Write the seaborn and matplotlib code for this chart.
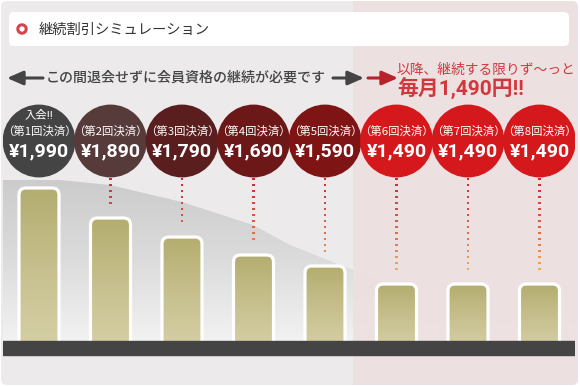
import numpy as np
import pandas as pd
import matplotlib
matplotlib.use("Agg")
import matplotlib.pyplot as plt
import matplotlib.colors as mcolors
from matplotlib.patches import FancyBboxPatch, Rectangle, Circle, Polygon
import seaborn as sns

# ---------------- data ----------------
payment_no = [1, 2, 3, 4, 5, 6, 7, 8]
circle_titles = ["入会!!\n（第1回決済）", "（第2回決済）", "（第3回決済）", "（第4回決済）",
                 "（第5回決済）", "（第6回決済）", "（第7回決済）", "（第8回決済）"]
prices = [1990, 1890, 1790, 1690, 1590, 1490, 1490, 1490]
bar_heights = [153, 123, 104, 86, 75, 57, 57, 57]   # illustrated bar heights
circle_colors = ["#444444", "#573A3A", "#5A1E1F", "#6C1819", "#7E1414",
                 "#D5181B", "#D5181B", "#D5181B"]
title_text = "継続割引シミュレーション"
arrow_text = "この間退会せずに会員資格の継続が必要です"
red_text_1 = "以降、継続する限りず～っと"
red_text_2 = "毎月1,490円!!"

sns.set_theme(style="white")
plt.rcParams['font.family'] = ['Noto Sans CJK JP', 'DejaVu Sans']
MIX_FONT = ['Roboto', 'Noto Sans CJK JP', 'DejaVu Sans']

W, H = 580, 386
fig = plt.figure(figsize=(W / 100, H / 100), dpi=100)
fig.patch.set_facecolor("white")

# ---------------- background axes (pixel coords) ----------------
bg = fig.add_axes([0, 0, 1, 1])
bg.set_xlim(0, W)
bg.set_ylim(H, 0)
bg.axis("off")

base = FancyBboxPatch((1, 1), 577, 384, boxstyle="round,pad=0,rounding_size=6",
                      fc="#ECEAEB", ec="none", zorder=0)
bg.add_patch(base)

# soft grey gradient hill behind the bars
cx = np.array([3, 60, 110, 182, 253, 290, 353, 430, 500, 578])
cy = np.array([180, 180, 185, 202, 225, 245, 270, 296, 310, 318])
xs = np.linspace(3, 578, 200)
ys = np.interp(xs, cx, cy)
poly_pts = np.column_stack([np.r_[xs, 578, 3], np.r_[ys, 341, 341]])
hill = Polygon(poly_pts, closed=True, fc="none", ec="none", zorder=1)
bg.add_patch(hill)
grad = np.linspace(0, 1, 256).reshape(-1, 1)
hill_cmap = mcolors.LinearSegmentedColormap.from_list("hill", ["#CCCBCC", "#DCDBDC", "#F2F2F2"])
im = bg.imshow(grad, cmap=hill_cmap, extent=(3, 578, 341, 175), aspect="auto", zorder=1)
im.set_clip_path(hill)

# pink region
pink = Rectangle((353, 0), 230, H, fc="#EEDFE0", ec="none", alpha=0.86, zorder=2)
bg.add_patch(pink)
pink.set_clip_path(base)

# title box
bg.add_patch(FancyBboxPatch((9, 12), 560, 34, boxstyle="round,pad=0,rounding_size=5",
                            fc="white", ec="none", zorder=3))
bg.add_patch(Circle((22, 29), 4.2, fc="none", ec="#D2454C", lw=2.2, zorder=4))
bg.text(39, 29.5, title_text, fontsize=10.3, color="#333333", va="center", ha="left", zorder=4)

# arrow row
arrow_y = 78
bg.annotate("", xy=(7, arrow_y), xytext=(43, arrow_y), zorder=4,
            arrowprops=dict(arrowstyle="-|>,head_length=0.8,head_width=0.35", lw=2.2,
                            color="#444444", shrinkA=0, shrinkB=0))
bg.text(46, arrow_y, arrow_text, fontsize=10.1, color="#444444", fontweight="medium",
        va="center", ha="left", zorder=4)
bg.annotate("", xy=(364, arrow_y), xytext=(333, arrow_y), zorder=4,
            arrowprops=dict(arrowstyle="-|>,head_length=0.8,head_width=0.35", lw=2.2,
                            color="#444444", shrinkA=0, shrinkB=0))
bg.annotate("", xy=(398, arrow_y), xytext=(368, arrow_y), zorder=4,
            arrowprops=dict(arrowstyle="-|>,head_length=0.8,head_width=0.35", lw=2.2,
                            color="#B8222C", shrinkA=0, shrinkB=0))
bg.text(397, 70, red_text_1, fontsize=9.9, color="#D2373E", va="center", ha="left", zorder=4)
bg.text(397, 89, red_text_2, fontsize=15, color="#D2373E", fontweight="bold",
        family=MIX_FONT, va="center", ha="left", zorder=4)

# ---------------- bar axes ----------------
unit_px = 572 / 8
ax = fig.add_axes([3.25 / W, 0, 572 / W, 1])
ax.patch.set_alpha(0)
df = pd.DataFrame({"payment": payment_no, "height": bar_heights, "price": prices})
sns.barplot(data=df, x="payment", y="height", width=0.56, ax=ax, color="#B5AE72")

bar_cmap = mcolors.LinearSegmentedColormap.from_list("bar", ["#B4AD6F", "#C7C08E", "#D6D0A7"])
for p in list(ax.patches):
    x0, w, h = p.get_x(), p.get_width(), p.get_height()
    p.set_visible(False)
    rb = FancyBboxPatch((x0, -10), w, h + 10,
                        boxstyle=f"round,pad=0,rounding_size={7 / unit_px}",
                        mutation_aspect=unit_px, fc="none", ec="white", lw=2.3, zorder=3)
    ax.add_patch(rb)
    gim = ax.imshow(grad, cmap=bar_cmap, extent=(x0, x0 + w, -10, h), aspect="auto",
                    zorder=2.5, origin="upper")
    gim.set_clip_path(rb)

# dark base band
ax.axhspan(-14, 0, color="#444444", zorder=5)

# dotted connectors (red -> orange)
DOT_TOP, DOT_STEP, GAP = 162, 6, 15
dot_cmap = mcolors.LinearSegmentedColormap.from_list("dots", ["#C9283A", "#D9604A", "#EAAE55"])
for i, h in enumerate(bar_heights):
    ys_d = np.arange(DOT_TOP, h + GAP - 0.1, -DOT_STEP)
    if len(ys_d) == 0:
        continue
    t = (DOT_TOP - ys_d) / 90.0
    ax.scatter(np.full(len(ys_d), i), ys_d, marker="s", s=3.6, c=dot_cmap(np.clip(t, 0, 1)),
               linewidths=0, zorder=4)

# price circles
CIRCLE_Y = 200
cdf = pd.DataFrame({"pos": np.arange(len(prices)), "y": CIRCLE_Y, "lab": circle_titles})
sns.scatterplot(data=cdf, x="pos", y="y", hue="lab", palette=circle_colors, s=2750,
                linewidth=0, legend=False, ax=ax, zorder=6)

for i, (lab, pr) in enumerate(zip(circle_titles, prices)):
    lines = lab.split("\n")
    if len(lines) == 2:
        ax.text(i, 226, lines[0], color="white", fontsize=8.2, family=MIX_FONT,
                ha="center", va="center", zorder=7)
    ax.text(i, 210, lines[-1], color="white", fontsize=8.2, ha="center", va="center", zorder=7)
    ax.text(i, 190, f"¥{pr:,}", color="white", fontsize=14, fontweight="bold",
            family=MIX_FONT, ha="center", va="center", zorder=7)

ax.set_xlim(-0.5, 7.5)
ax.set_ylim(-45, 341)
ax.axis("off")

fig.savefig("out.png", dpi=100)
